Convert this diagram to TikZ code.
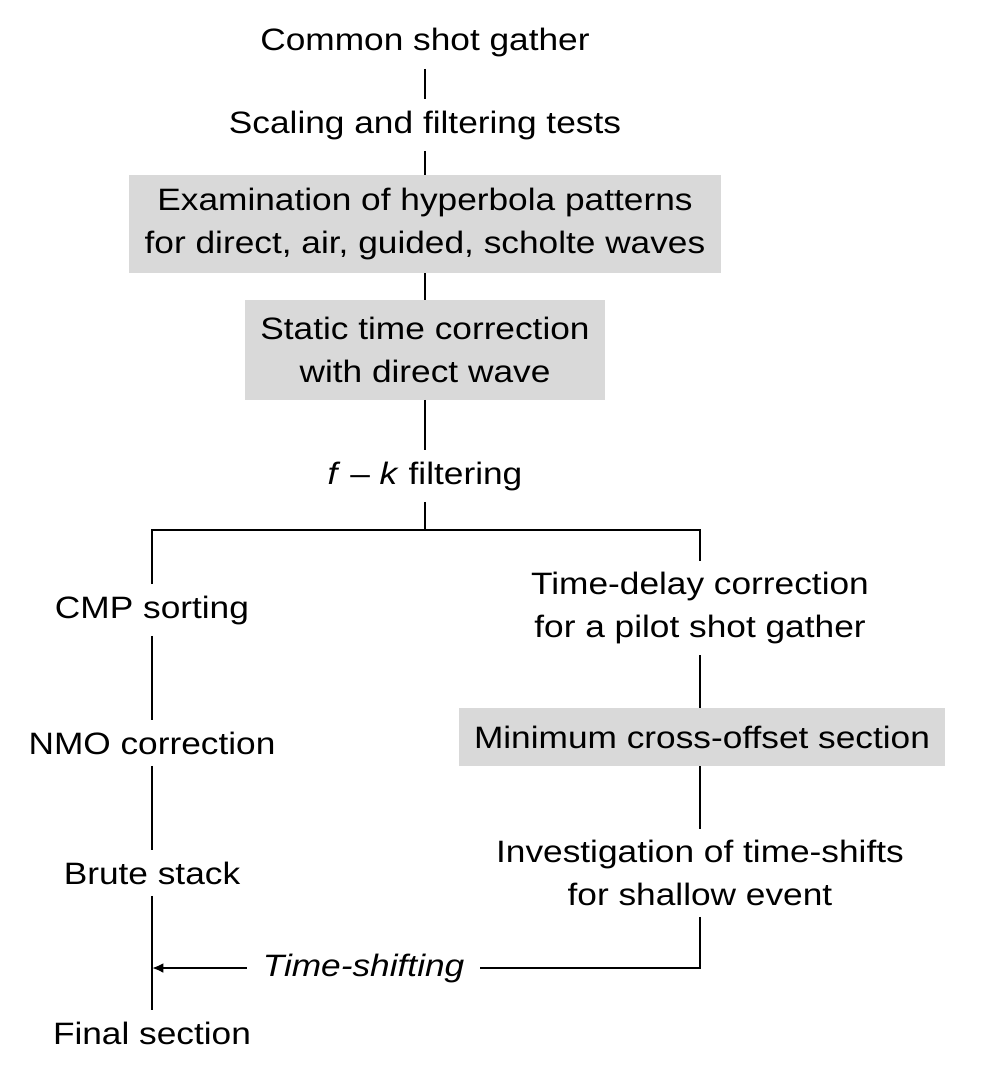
\documentclass[tikz,border=0pt]{standalone}
\usepackage{fontspec}
\setmainfont[FakeStretch=1.14]{Liberation Sans}
\usetikzlibrary{arrows.meta, positioning, calc}
\definecolor{boxgray}{RGB}{217,217,217}

\begin{document}
\begin{tikzpicture}[
  x=0.025cm, y=-0.025cm,
  % Base style for all steps
  basetext/.style={font=\fontsize{22}{30}\selectfont, align=center, inner xsep=0pt, inner ysep=8pt},
  % Styles inheriting from basetext
  plainstep/.style={basetext},
  graystep/.style={basetext, fill=boxgray, inner ysep=0pt},
  flowline/.style={line width=2pt},
  shiftlabel/.style={font=\fontsize{22}{24}\selectfont\itshape, fill=white, inner xsep=11pt, inner ysep=2pt}
]

  % Canvas
  \useasboundingbox (0,0) rectangle (980,1072);

  % Main trunk
  \node[plainstep] (csg) at (425,43) {Common shot gather};
  \node[plainstep] (sft) at (425,125) {Scaling and filtering tests};
  \node[graystep, minimum width=14.8cm, minimum height=2.45cm] (exam) at (425,224)
    {Examination of hyperbola patterns\\for direct, air, guided, scholte waves};
  \node[graystep, minimum width=9cm, minimum height=2.475cm] (static) at (425,350)
    {Static time correction\\with direct wave};
  \node[plainstep] (fk) at (425,476) {\textit{f} -- \textit{k} filtering};
  \coordinate (split) at (425,530);

  % Left branch
  \node[plainstep] (cmp) at (152,610) {CMP sorting};
  \node[plainstep] (nmo) at (152,743) {NMO correction};
  \node[plainstep] (brute) at (152,873) {Brute stack};
  \node[plainstep] (final) at (152,1033) {Final section};

  % Right branch
  \node[plainstep] (tdc) at (700,608) {Time-delay correction\\for a pilot shot gather};
  \node[graystep, minimum width=12.15cm, minimum height=1.45cm] (minoff) at (702,737)
    {Minimum cross-offset section};
  \node[plainstep] (inv) at (700,873) {Investigation of time-shifts\\for shallow event};
  \coordinate (shiftend) at (152,968);

  % Connectors
  \draw[flowline] (csg.south) -- (sft.north);
  \draw[flowline] (sft.south) -- (sft.south |- exam.north);
  \draw[flowline] (sft.south |- exam.south) -- (sft.south |- static.north);
  \draw[flowline] (sft.south |- static.south) -- (fk.north);
  \draw[flowline] (fk.south) -- (split);
  \draw[flowline] (cmp.north) |- (split) -| (tdc.north);
  \draw[flowline] (cmp.south) -- (nmo.north);
  \draw[flowline] (nmo.south) -- (brute.north);
  \draw[flowline] (brute.south) -- (final.north);
  \draw[flowline] (tdc.south) -- (tdc.south |- minoff.north);
  \draw[flowline] (tdc.south |- minoff.south) -- (inv.north);
  \draw[flowline, -{Latex[length=8pt, width=7pt]}] (inv.south) |- (shiftend)
    node[shiftlabel, pos=0.807] (shiftlbl) {Time-shifting};

\end{tikzpicture}
\end{document}
